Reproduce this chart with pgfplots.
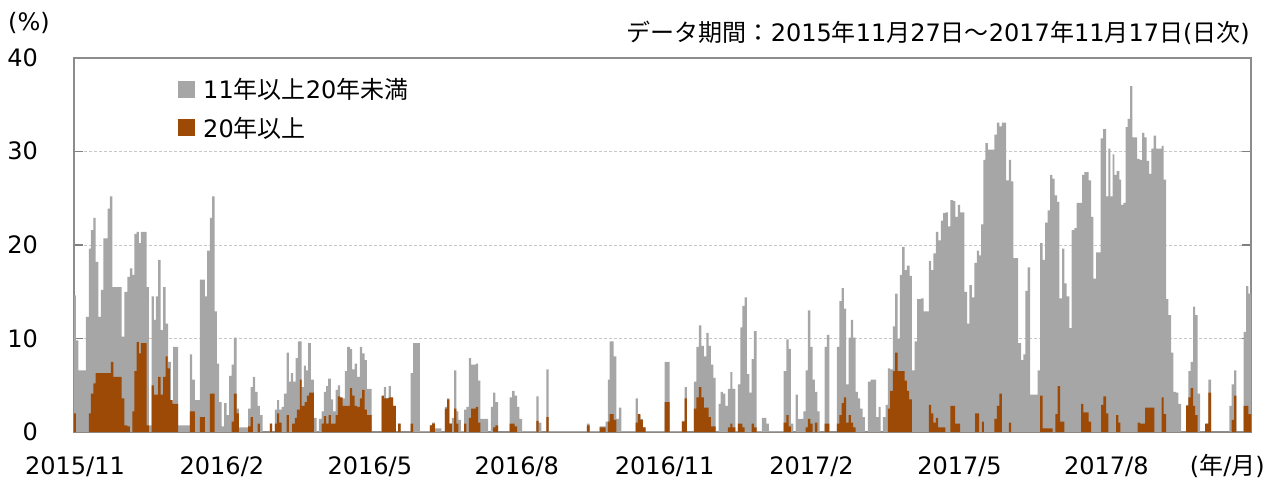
\documentclass[border=0pt]{standalone}
\usepackage{pgfplots}
\pgfplotsset{compat=1.18}
\usepackage{fontspec}
\setmainfont{DejaVu Sans}
\newfontfamily\cjk{Noto Sans CJK JP}
\definecolor{barGrey}{HTML}{A6A6A6}
\definecolor{barBrown}{HTML}{9C4A06}
\begin{document}
\begin{tikzpicture}
\path[use as bounding box] (-74pt,-50pt) rectangle (1211pt,432pt);
\begin{axis}[
  at={(0,0)}, anchor=south west,
  scale only axis, width=1177pt, height=374pt,
  xmin=74, xmax=1251.7, ymin=0, ymax=40,
  ytick={0,10,20,30,40},
  xtick={75,222,370,517,665,812,960,1107,1228},
  xticklabels={2015/11,2016/2,2016/5,2016/8,2016/11,2017/2,2017/5,2017/8,({\cjk 年}/{\cjk 月})},
  /pgf/number format/assume math mode=true,
  font=\fontsize{24}{28}\selectfont,
  xticklabel style={anchor=base, inner sep=0pt, yshift=-42pt},
  yticklabel style={anchor=base east, inner sep=0pt, xshift=-36pt, yshift=-8.5pt},
  xtick style={draw=none},
  ytick style={draw=black!50, line width=1.5pt},
  tick align=inside, major tick length=9pt,
  ymajorgrids, major grid style={draw=black!22, line width=0.8pt, dash pattern=on 3pt off 2pt},
  axis line style={draw=black!45, line width=1.5pt},
  legend style={at={(0.0884,0.9465)}, anchor=north west, draw=none, fill=none,
    font=\fontsize{24}{28}\selectfont, row sep=17pt, inner sep=0pt,
    nodes={inner sep=0pt, anchor=west}},
  legend cell align=left,
  legend image code/.code={\fill[#1] (0pt,-8.5pt) rectangle (17pt,8.5pt); \path (25pt,0pt);},
]
\addplot[const plot, fill=barGrey, draw=none] table[row sep=\\] {
x y\\
74 14.6\\ 76 9.8\\ 78.3 6.6\\ 86 12.3\\ 89 19.6\\ 91 21.6\\ 93.3 22.9\\ 95.7 18.2\\ 98.3 12.3\\ 101 15.2\\
103.3 20.7\\ 107.7 23.9\\ 110 25.2\\ 112.3 15.5\\ 121.7 10.2\\ 124.3 15.0\\ 127.3 16.6\\ 130 17.5\\ 132.3 16.8\\ 134.3 21.2\\
136.7 21.4\\ 139 20.2\\ 141 21.4\\ 146.7 15.5\\ 149 0.7\\ 151.7 14.5\\ 154 12.0\\ 156 14.5\\ 158.3 18.4\\ 160.7 10.9\\
163.3 15.5\\ 165.7 11.6\\ 168.3 7.5\\ 171 3.1\\ 173.3 9.1\\ 178.3 0.7\\ 190 8.3\\ 192.3 5.6\\ 195 3.4\\ 200 16.3\\
205 14.5\\ 207.3 19.4\\ 210 22.9\\ 212.3 25.2\\ 214.7 12.9\\ 217 7.3\\ 219.3 3.2\\ 221.7 0.6\\ 224.3 3.1\\ 226.7 1.8\\
229.3 6.0\\ 231.7 7.2\\ 234 10.1\\ 236.7 2.5\\ 239 0.5\\ 248.3 2.5\\ 250.7 4.8\\ 253 5.9\\ 255.3 4.3\\ 257.7 2.8\\
260 1.8\\ 262.7 0\\ 270 0.9\\ 272.3 0\\ 275 2.4\\ 277.3 3.4\\ 279.3 2.4\\ 281.7 2.7\\ 284 4.1\\ 286.7 8.5\\
289 5.4\\ 291 6.3\\ 293.3 5.4\\ 295.7 7.9\\ 298 9.7\\ 301.7 4.8\\ 304 7.1\\ 306 6.6\\ 308.3 9.5\\ 311 5.6\\
314 1.5\\ 316.7 0\\ 319 1.4\\ 321.7 2.2\\ 324 4.3\\ 326.3 4.9\\ 328.3 5.7\\ 331 3.5\\ 333.3 2.2\\ 335.7 4.5\\
338 5.0\\ 340.3 3.6\\ 345 6.5\\ 347.3 9.1\\ 350 8.9\\ 352.3 6.7\\ 354.7 7.3\\ 357.3 5.9\\ 360 9.1\\ 362.3 8.4\\
364.7 7.7\\ 367 4.6\\ 371.7 0\\ 381.7 3.8\\ 384 4.8\\ 386.3 3.6\\ 388.7 4.9\\ 391 3.6\\ 393.3 2.8\\ 396 0\\
398.3 0.9\\ 400.7 0\\ 410.7 6.3\\ 413.3 9.5\\ 420 0.1\\ 430 0.7\\ 432.3 1.0\\ 435 0.4\\ 441.7 0\\ 445 2.7\\
447.3 3.6\\ 449.7 0.9\\ 452 1.5\\ 454.3 6.6\\ 456.7 2.2\\ 458.7 1.3\\ 461 0.1\\ 464.3 2.4\\ 466.7 2.7\\ 469 7.9\\
471.3 7.2\\ 476 7.3\\ 478.3 5.5\\ 480.7 1.4\\ 488.3 0\\ 491 2.7\\ 493.3 4.2\\ 495.7 3.2\\ 498.3 0\\ 510 3.7\\
512.3 4.4\\ 515 3.9\\ 517.3 2.7\\ 519.7 1.4\\ 522.3 0.1\\ 536.7 3.8\\ 539 1.0\\ 541.7 0\\ 546.7 6.7\\ 549 0.1\\
587.3 0.9\\ 590 0.1\\ 600 0.6\\ 606 1.1\\ 608.3 5.6\\ 610 9.7\\ 614 8.1\\ 616.7 1.4\\ 619.3 2.6\\ 621.7 0.1\\
636 3.6\\ 638.3 1.8\\ 640.7 1.4\\ 643.3 0.5\\ 645.7 0.1\\ 665 7.5\\ 670 0.1\\ 682.3 1.2\\ 685 4.8\\ 687.3 0\\
694.3 5.4\\ 696.7 9.1\\ 699.3 11.4\\ 701.7 9.2\\ 704.3 8.1\\ 706.7 10.6\\ 709 9.2\\ 711.3 7.2\\ 713.7 5.8\\ 716 0\\
719 3.0\\ 721 4.3\\ 723.3 4.1\\ 725.7 2.8\\ 728.3 4.6\\ 730.7 6.4\\ 732.7 4.6\\ 735.7 0.1\\ 738.3 5.1\\ 740.7 11.2\\
742.7 13.5\\ 745 14.4\\ 747.3 6.2\\ 749.7 4.2\\ 752 7.8\\ 754.3 10.8\\ 757 0.1\\ 762.3 1.5\\ 766.7 0.9\\ 769.3 0.1\\
784 6.5\\ 786.7 9.9\\ 789 8.9\\ 791.3 0.9\\ 793.7 0\\ 796 4.0\\ 798.3 1.4\\ 803.7 2.2\\ 806 6.6\\ 808.3 13.0\\
810.7 9.1\\ 813 5.6\\ 815.3 4.3\\ 817.7 2.2\\ 820 0\\ 825 9.1\\ 827.3 10.4\\ 829.7 0\\ 837.3 9.1\\ 839.7 14.0\\
842 15.4\\ 844.3 13.2\\ 846.7 5.1\\ 849 10.1\\ 851.3 12.0\\ 853.7 10.1\\ 856 4.3\\ 858.3 3.6\\ 860.7 2.5\\ 863 1.6\\
865.3 0\\ 868.3 5.4\\ 871 5.6\\ 876.7 1.6\\ 879 2.7\\ 881 0\\ 883.3 1.6\\ 886 2.9\\ 888.3 6.8\\ 890.7 6.7\\
893.3 11.3\\ 895.7 14.8\\ 898 10.0\\ 900.3 16.8\\ 902.7 19.8\\ 905 17.3\\ 907.3 17.8\\ 910 16.7\\ 912.3 6.6\\ 915 9.7\\
917.7 14.2\\ 921.7 14.3\\ 924 12.9\\ 929.3 18.3\\ 931.7 17.3\\ 934 19.1\\ 936.3 21.4\\ 939 20.5\\ 941.3 22.6\\ 943.7 23.4\\
946 23.5\\ 948.3 22.0\\ 951 24.8\\ 953.7 24.7\\ 956 23.0\\ 958.3 24.3\\ 960.7 23.5\\ 965 15.0\\ 967.7 11.6\\ 970 15.7\\
972.3 14.4\\ 975 18.1\\ 977.3 19.4\\ 979.7 18.9\\ 981.7 22.2\\ 984 29.1\\ 986 30.9\\ 988.3 30.2\\ 995 31.8\\ 997.3 33.1\\
1000 32.7\\ 1002.3 33.1\\ 1006.7 26.9\\ 1009.3 29.1\\ 1011.7 26.8\\ 1014 18.6\\ 1018.7 9.5\\ 1021.7 7.7\\ 1024 8.3\\ 1026 15.1\\
1028.3 17.6\\ 1030.7 4.0\\ 1038.3 6.6\\ 1040.7 20.2\\ 1043.3 18.4\\ 1045.7 22.4\\ 1048.3 23.7\\ 1050.7 27.5\\ 1053 27.1\\ 1055.3 25.3\\
1057.7 24.6\\ 1060 14.3\\ 1062.7 19.6\\ 1065 15.9\\ 1067.3 14.5\\ 1070 11.1\\ 1072.3 21.6\\ 1075 21.8\\ 1077.3 24.5\\ 1082.7 27.5\\
1085 27.8\\ 1089.3 26.9\\ 1091.7 23.0\\ 1094 16.4\\ 1096.7 19.2\\ 1101.3 31.4\\ 1103.7 32.4\\ 1106.7 25.2\\ 1109 30.3\\ 1111 25.2\\
1113.3 29.7\\ 1115 27.5\\ 1117.3 27.9\\ 1120 27.0\\ 1121.7 24.3\\ 1124 24.5\\ 1126.3 32.6\\ 1128.3 33.5\\ 1130.7 37.0\\ 1133 31.5\\
1137.7 29.2\\ 1140.3 29.1\\ 1142.7 32.0\\ 1145 31.5\\ 1147.3 29.0\\ 1149.7 27.6\\ 1152 30.3\\ 1154.3 31.7\\ 1156.7 30.3\\ 1162.3 30.6\\
1164.3 27.0\\ 1166.7 14.2\\ 1169 12.5\\ 1171.7 8.5\\ 1174 4.3\\ 1176.7 4.2\\ 1179 3.0\\ 1181.7 0\\ 1186.7 2.9\\ 1189 6.5\\
1191.3 7.5\\ 1193.7 13.4\\ 1195.7 12.5\\ 1198.3 4.1\\ 1200.7 0\\ 1206.7 0.9\\ 1209 5.6\\ 1211.7 0\\ 1230 2.8\\ 1232.3 5.1\\
1234.7 6.6\\ 1237 0\\ 1244.3 10.7\\ 1246.7 15.6\\ 1249 14.8\\ 1251.7 0\\
} \closedcycle;
\addlegendentry{11{\cjk 年以上}20{\cjk 年未満}}
\addplot[const plot, fill=barBrown, draw=none] table[row sep=\\] {
x y\\
74 2.0\\ 76 0\\ 89 2.0\\ 91 4.1\\ 93.3 5.2\\ 95.7 6.3\\ 111 7.5\\ 113.3 5.9\\ 121.7 3.6\\ 124.3 0.7\\
127.3 0.6\\ 130 0\\ 132.3 2.2\\ 134.3 6.5\\ 136.7 9.6\\ 139 8.4\\ 141 9.5\\ 146.7 0.7\\ 149 0\\ 151.7 5.0\\
154 4.0\\ 158.3 5.9\\ 160.7 4.0\\ 163.3 5.9\\ 165.7 8.1\\ 167.7 6.8\\ 170 3.4\\ 172.7 3.0\\ 178.3 0\\ 190 2.2\\
195 0\\ 200 1.6\\ 205 0\\ 210 4.1\\ 214.7 0\\ 231.7 1.1\\ 234 4.1\\ 236.7 2.0\\ 239 0\\ 248.3 0.6\\
250.7 1.6\\ 253 0\\ 257.7 0.9\\ 260 0\\ 270 0.9\\ 272.3 0\\ 275 0.9\\ 277.3 2.0\\ 279.3 1.0\\ 281.7 0\\
286.7 1.8\\ 289 0\\ 292.3 0.9\\ 295 1.5\\ 297 2.4\\ 300 5.6\\ 301.7 2.8\\ 304.7 3.2\\ 307 3.9\\ 309.3 4.2\\
314 0\\ 321.7 0.9\\ 324 1.7\\ 326.3 0.9\\ 328.7 1.8\\ 331 0.9\\ 335.7 1.8\\ 338 3.8\\ 340.3 3.7\\ 342.7 2.8\\
350 4.7\\ 352.3 3.9\\ 354.7 2.8\\ 357.3 2.7\\ 360 3.6\\ 362.3 4.5\\ 364.7 2.4\\ 367 1.8\\ 371.7 0\\ 381.7 3.9\\
384 3.6\\ 388.7 3.7\\ 393.3 2.8\\ 396 0\\ 398.3 0.9\\ 400.7 0\\ 410.7 0.9\\ 413.3 0\\ 430 0.7\\ 432.3 0.9\\
435 0\\ 445 2.5\\ 447.3 3.5\\ 449.7 0.9\\ 452 0\\ 454.3 2.5\\ 456.7 0.9\\ 458.7 0\\ 464.3 0.9\\ 466.7 0\\
469 1.5\\ 471.3 2.5\\ 476 2.7\\ 478.3 1.0\\ 480.7 0\\ 493.3 0.5\\ 495.7 0.7\\ 498.3 0\\ 510 0.9\\ 515 0.6\\
517.3 0\\ 536.7 1.2\\ 539 0\\ 546.7 1.6\\ 549 0\\ 587.3 0.7\\ 590 0\\ 600 0.5\\ 606 0\\ 608.3 1.1\\
610 1.9\\ 614 1.3\\ 616.7 0\\ 636 1.0\\ 638.3 1.9\\ 640.7 1.3\\ 643.3 0.5\\ 646 0\\ 665 3.2\\ 670 0\\
682.3 1.1\\ 685 3.6\\ 687.3 0\\ 694.3 2.5\\ 696.7 3.7\\ 699.3 4.8\\ 701.7 3.7\\ 704.3 2.6\\ 709 1.6\\ 711.3 0.6\\
716 0\\ 728.3 0.5\\ 730.7 0.9\\ 732.7 0.5\\ 735.7 0\\ 738.3 0.9\\ 742.7 0.5\\ 745 0\\ 752 0.9\\ 754.3 0.5\\
757 0\\ 784 1.0\\ 786.7 1.8\\ 789 0.6\\ 791.3 0\\ 806 0.5\\ 808.3 1.4\\ 810.7 0.9\\ 813 0\\ 815.3 1.0\\
817.7 0\\ 825 0.9\\ 829.7 0\\ 837.3 0.9\\ 839.7 1.8\\ 842 3.1\\ 844.3 3.7\\ 846.7 1.0\\ 849 1.8\\ 851.3 1.0\\
853.7 0.5\\ 856 0\\ 888.3 2.5\\ 890.7 4.4\\ 893.3 6.5\\ 895.7 8.5\\ 898 6.5\\ 905 5.5\\ 907.3 4.4\\ 909.7 3.5\\
912.3 0\\ 929.3 2.9\\ 931.7 2.0\\ 934 1.0\\ 936.3 1.5\\ 938.7 0.5\\ 946 0\\ 951 2.8\\ 955.7 0.9\\ 960.7 0\\
975.7 2.0\\ 979.7 0\\ 982.3 1.1\\ 984.3 0\\ 995 1.4\\ 997.3 2.8\\ 1000 4.1\\ 1002.3 0\\ 1009.3 1.0\\ 1011.7 0\\
1040.7 3.9\\ 1043.3 0.4\\ 1053.3 0\\ 1056 1.9\\ 1058.3 4.9\\ 1060.7 1.1\\ 1065 0\\ 1081.7 3.0\\ 1084 2.1\\ 1089.3 1.1\\
1091.7 0\\ 1101.7 2.9\\ 1104 3.8\\ 1106.7 2.0\\ 1109 0\\ 1116.7 1.8\\ 1119 1.0\\ 1121 0\\ 1138.3 1.0\\ 1140.7 0.9\\
1145.7 2.6\\ 1155 0\\ 1162.3 3.7\\ 1164.3 1.9\\ 1166.7 0\\ 1186.7 2.8\\ 1189 3.7\\ 1191.3 4.7\\ 1193.7 2.8\\ 1195.7 1.8\\
1198.3 0\\ 1205.7 0.9\\ 1209 4.2\\ 1211.7 0\\ 1232.3 1.3\\ 1234.7 3.9\\ 1237 0\\ 1244.3 2.8\\ 1249 1.9\\ 1251.7 0\\
} \closedcycle;
\addlegendentry{20{\cjk 年以上}}
\end{axis}
\node[font=\fontsize{24}{28}\selectfont, inner sep=0pt] at (-45pt,409pt) {(\%)};
\node[font=\fontsize{24}{28}\selectfont, inner sep=0pt, anchor=east] at (1176pt,399pt) {{\cjk データ期間：}2015{\cjk 年}11{\cjk 月}27{\cjk 日～}2017{\cjk 年}11{\cjk 月}17{\cjk 日}({\cjk 日次})};
\end{tikzpicture}
\end{document}
